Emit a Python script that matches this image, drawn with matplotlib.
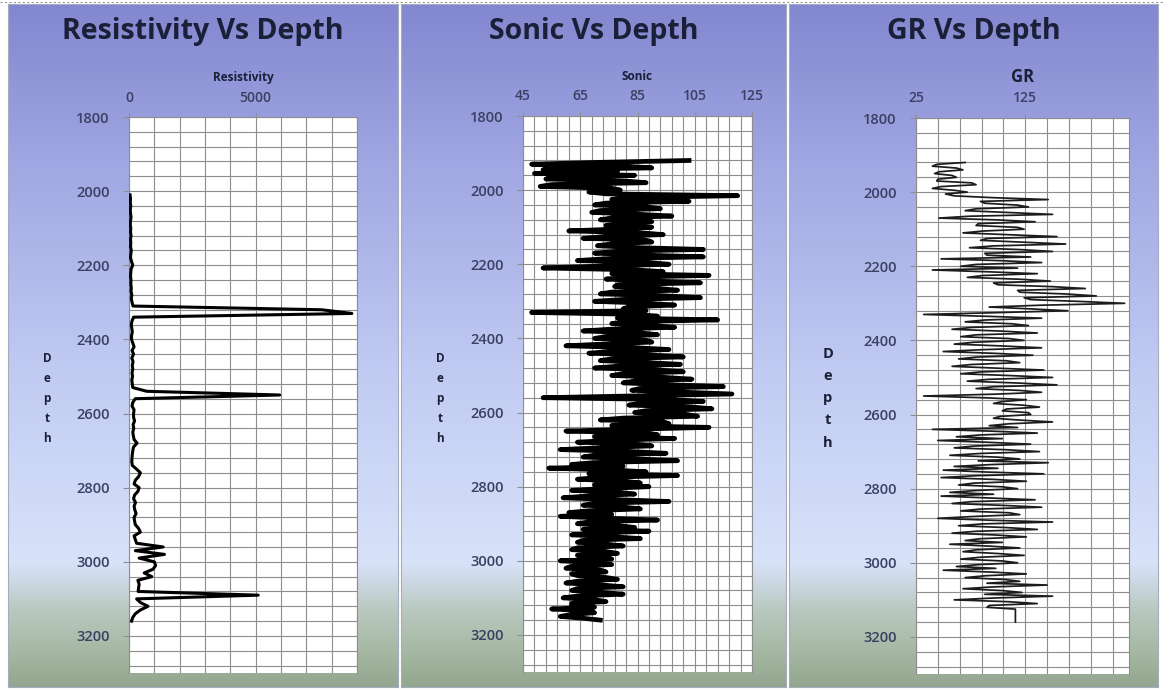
import numpy as np
import matplotlib
matplotlib.use("Agg")
import matplotlib.pyplot as plt
from matplotlib.colors import LinearSegmentedColormap
from matplotlib.ticker import MultipleLocator

W, H = 1163, 689
plt.rcParams["font.family"] = ["Open Sans", "DejaVu Sans"]

# ---- well log samples --------------------------------------------------------
# resistivity read every 10 ft, sonic and gamma ray every 5 ft
RES_TOP, RES_STEP = 2010, 10
SON_TOP, SON_STEP = 1920, 5
GR_TOP, GR_STEP = 1920, 5

resistivity = [
    40, 60, 50, 70, 50, 60, 80, 60, 50, 70,
    60, 80, 60, 70, 60, 90, 70, 60, 100, 150,
    80, 70, 60, 80, 70, 90, 80, 110, 90, 120,
    160, 7600, 8800, 180, 120, 90, 110, 130, 100, 100,
    150, 200, 120, 180, 110, 160, 130, 150, 120, 140,
    110, 130, 150, 700, 5950, 250, 150, 120, 200, 180,
    180, 220, 160, 190, 150, 170, 200, 320, 180, 150,
    130, 120, 110, 130, 300, 450, 380, 250, 200, 400,
    350, 220, 180, 260, 200, 230, 280, 200, 220, 250,
    380, 450, 200, 250, 300, 1350, 250, 1400, 400, 1000,
    1050, 950, 600, 900, 350, 400, 380, 360, 5100, 300,
    450, 750, 450, 250, 150, 100,
]

sonic = [
    103, 72, 48, 80, 90, 52, 78, 49, 84, 58,
    53, 80, 88, 55, 51, 76, 79, 68, 74, 120,
    82, 76, 103, 74, 70, 88, 93, 72, 69, 85,
    97, 76, 72, 90, 84, 74, 90, 78, 61, 86,
    94, 74, 66, 88, 90, 76, 71, 84, 108, 78,
    70, 86, 108, 74, 64, 88, 96, 72, 52, 84,
    94, 76, 110, 82, 74, 90, 107, 78, 77, 92,
    99, 76, 72, 94, 107, 80, 70, 88, 98, 82,
    80, 88, 48, 84, 92, 78, 113, 82, 76, 90,
    98, 76, 66, 86, 92, 74, 70, 88, 90, 74,
    60, 84, 96, 76, 68, 90, 101, 76, 72, 88,
    100, 78, 70, 92, 101, 80, 76, 94, 104, 84,
    80, 96, 115, 86, 83, 100, 118, 84, 52, 96,
    108, 86, 82, 104, 111, 88, 84, 102, 106, 80,
    72, 94, 96, 76, 110, 84, 60, 88, 92, 70,
    98, 76, 64, 84, 90, 72, 58, 82, 95, 70,
    66, 84, 99, 70, 62, 80, 54, 76, 88, 68,
    99, 72, 64, 80, 86, 70, 89, 74, 62, 78,
    84, 68, 59, 78, 96, 70, 66, 80, 86, 68,
    61, 76, 58, 74, 92, 68, 64, 78, 84, 66,
    89, 72, 62, 76, 86, 66, 64, 74, 80, 64,
    62, 74, 78, 64, 66, 76, 58, 70, 76, 62,
    60, 72, 74, 62, 64, 74, 78, 64, 60, 72,
    80, 64, 62, 72, 80, 64, 59, 70, 74, 62,
    62, 70, 55, 68, 70, 62, 58, 66, 72,
]

gamma_ray = [
    70, 44, 40, 62, 68, 46, 42, 58, 62, 45,
    44, 76, 80, 48, 40, 60, 72, 52, 60, 96,
    146, 84, 88, 118, 128, 80, 70, 110, 150, 74,
    46, 100, 134, 82, 80, 118, 124, 86, 68, 112,
    154, 90, 84, 124, 162, 96, 74, 120, 150, 88,
    90, 130, 48, 104, 140, 80, 66, 118, 40, 92,
    136, 86, 72, 120, 148, 96, 100, 150, 180, 118,
    120, 164, 190, 124, 130, 176, 216, 140, 92, 130,
    164, 100, 32, 90, 140, 88, 70, 112, 128, 76,
    58, 104, 136, 80, 66, 110, 124, 78, 60, 104,
    140, 86, 50, 98, 132, 80, 64, 108, 120, 76,
    58, 100, 142, 84, 66, 112, 150, 92, 72, 118,
    154, 96, 80, 120, 140, 98, 32, 90, 126, 104,
    96, 124, 138, 108, 104, 128, 130, 102, 96, 120,
    150, 110, 92, 118, 40, 96, 136, 84, 62, 104,
    45, 92, 130, 78, 60, 108, 138, 84, 56, 100,
    120, 82, 146, 94, 60, 100, 50, 88, 142, 80,
    48, 96, 126, 78, 64, 104, 118, 80, 56, 96,
    48, 90, 134, 76, 58, 104, 140, 84, 66, 110,
    120, 78, 45, 92, 150, 86, 64, 108, 136, 80,
    58, 98, 126, 84, 70, 104, 56, 92, 120, 80,
    68, 100, 124, 84, 66, 104, 118, 82, 62, 98,
    50, 94, 126, 88, 70, 106, 120, 90, 145, 96,
    68, 104, 122, 88, 150, 96, 60, 110, 136, 92,
    90, 116, 116, 116, 116, 116, 116, 116, 116,
]

PANELS = [
    dict(title="Resistivity Vs Depth", xlabel="Resistivity", values=resistivity,
         top=RES_TOP, step=RES_STEP,
         chart=(8, 4, 398, 687), plot=(129, 117, 357, 673), xlim=(0, 9000),
         major=5000, minor=1000, lw=2.2, color="black",
         xlabel_size=8.5, depth_size=8.5, depth_pitch=1.7),
    dict(title="Sonic Vs Depth", xlabel="Sonic", values=sonic,
         top=SON_TOP, step=SON_STEP,
         chart=(401, 4, 786, 687), plot=(523, 116, 752, 672), xlim=(45, 125),
         major=20, minor=4, lw=3.4, color="black",
         xlabel_size=8.5, depth_size=8.5, depth_pitch=1.7),
    dict(title="GR Vs Depth", xlabel="GR", values=gamma_ray,
         top=GR_TOP, step=GR_STEP,
         chart=(789, 4, 1158, 687), plot=(916, 118, 1129, 674), xlim=(25, 220),
         major=100, minor=20, lw=1.25, color="#1c1c1c",
         xlabel_size=12, depth_size=10.5, depth_pitch=1.75),
]

TITLE_INK = "#1b2038"
TICK_INK = "#3a4062"
GRID = "#8e8e8e"

# chart fill: violet at the top, pale blue through the middle, sage at the bottom
backdrop = LinearSegmentedColormap.from_list("backdrop", [
    (0.00, "#8387d0"), (0.25, "#a2a9e3"), (0.55, "#c2ccf3"),
    (0.82, "#d8e2f9"), (0.89, "#b9c8bf"), (0.95, "#a6b8a3"), (1.00, "#93a68f"),
])


def box(x0, y0, x1, y1):
    return [x0 / W, 1 - y1 / H, (x1 - x0) / W, (y1 - y0) / H]


fig = plt.figure(figsize=(W / 100, H / 100), dpi=100)
fig.patch.set_facecolor("white")

# dotted frame along the top edge
fig.add_artist(plt.Line2D([0, 1], [1 - 1.5 / H] * 2, transform=fig.transFigure,
                          color="#9a9a9a", lw=0.8, ls=(0, (2, 2))))

gradient = np.linspace(0, 1, 256).reshape(-1, 1)

for p in PANELS:
    cx0, cy0, cx1, cy1 = p["chart"]
    bg = fig.add_axes(box(*p["chart"]), zorder=0)
    bg.imshow(gradient, cmap=backdrop, aspect="auto", extent=(0, 1, 1, 0))
    bg.set_xticks([])
    bg.set_yticks([])
    for s in bg.spines.values():
        s.set_color("#a6abbd")
        s.set_linewidth(0.8)

    cx = (cx0 + cx1) / 2
    fig.text(cx / W, 1 - 31 / H, p["title"], ha="center", va="center",
             fontsize=20.5, fontweight="bold", color=TITLE_INK)

    px0, py0, px1, py1 = p["plot"]
    ax = fig.add_axes(box(*p["plot"]), zorder=2)
    ax.set_facecolor("white")

    depth = p["top"] + p["step"] * np.arange(len(p["values"]))
    ax.plot(p["values"], depth, color=p["color"], lw=p["lw"], zorder=3)

    ax.set_xlim(*p["xlim"])
    ax.set_ylim(3300, 1800)
    ax.xaxis.set_major_locator(MultipleLocator(p["major"], offset=p["xlim"][0]))
    ax.xaxis.set_minor_locator(MultipleLocator(p["minor"], offset=p["xlim"][0]))
    ax.yaxis.set_major_locator(MultipleLocator(200))
    ax.yaxis.set_minor_locator(MultipleLocator(40))
    ax.grid(which="both", color=GRID, lw=0.8, zorder=1)
    ax.set_axisbelow(True)

    ax.xaxis.tick_top()
    ax.tick_params(axis="x", which="major", length=3, pad=6, labelsize=10,
                   colors=GRID, labelcolor=TICK_INK)
    ax.tick_params(axis="y", which="major", length=4, pad=10, labelsize=10.5,
                   colors=GRID, labelcolor=TICK_INK)
    ax.tick_params(which="minor", length=0)
    for lab in ax.get_xticklabels() + ax.get_yticklabels():
        lab.set_fontweight("semibold")

    for side, s in ax.spines.items():
        s.set_color(GRID)
        s.set_linewidth(0.8)
    ax.spines["bottom"].set_visible(False)

    fig.text((px0 + px1) / 2 / W, 1 - 77 / H, p["xlabel"], ha="center", va="center",
             fontsize=p["xlabel_size"], fontweight="bold", color=TITLE_INK)

    fig.text((cx0 + 39) / W, 1 - 398 / H, "\n".join("Depth"), ha="center", va="center",
             fontsize=p["depth_size"], fontweight="bold", color=TITLE_INK,
             linespacing=p["depth_pitch"])

fig.savefig("out.png", dpi=100, facecolor=fig.get_facecolor())
